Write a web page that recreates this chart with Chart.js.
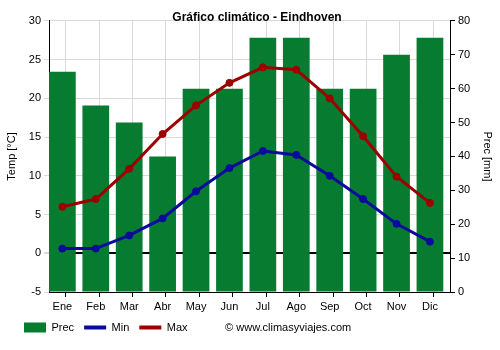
<!DOCTYPE html>
<html lang="es">
<head>
  <meta charset="UTF-8" />
  <title>Gráfico climático - Eindhoven</title>
  <script src="https://cdn.jsdelivr.net/npm/chart.js"></script>
  <style>
    body {
      margin: 0;
      padding: 0;
      background: #fff;
    }

    .chart-container {
      width: 500px;
      height: 350px;
    }
  </style>
</head>
<body>

  <div class="chart-container"><canvas id="climaChart"></canvas></div>

  <script>
    const months = ['Ene', 'Feb', 'Mar', 'Abr', 'May', 'Jun', 'Jul', 'Ago', 'Sep', 'Oct', 'Nov', 'Dic'];
    const prec = [65, 55, 50, 40, 60, 60, 75, 75, 60, 60, 70, 75];
    const tempMin = [0.6, 0.6, 2.3, 4.5, 8.0, 11.0, 13.2, 12.7, 10.0, 7.0, 3.8, 1.5];
    const tempMax = [6.0, 7.0, 10.9, 15.4, 19.1, 22.0, 24.0, 23.7, 20.0, 15.1, 9.9, 6.5];

    const green = '#077b30';
    const blue = '#0a0a9c';
    const red = '#9c0000';
    const fontFamily = '"Liberation Sans", Arial, sans-serif';

    // bars start on the grid line and fill 80% of each month slot
    const barPart = 0.8;
    const xMin = -barPart / 2;
    const xMax = months.length - barPart / 2;

    Chart.defaults.font.family = fontFamily;
    Chart.defaults.font.size = 11;
    Chart.defaults.color = '#000';

    const toPoints = values => values.map((v, i) => ({ x: i, y: v }));

    const ctx = document.getElementById('climaChart').getContext('2d');

    new Chart(ctx, {
      type: 'bar',
      data: {
        datasets: [
          {
            type: 'line',
            label: 'Max',
            data: toPoints(tempMax),
            yAxisID: 'y',
            borderColor: red,
            backgroundColor: red,
            borderWidth: 3,
            pointRadius: 3.5,
            pointBorderWidth: 1,
            pointHoverRadius: 3.5,
            tension: 0,
            order: 0
          },
          {
            type: 'line',
            label: 'Min',
            data: toPoints(tempMin),
            yAxisID: 'y',
            borderColor: blue,
            backgroundColor: blue,
            borderWidth: 3,
            pointRadius: 3.5,
            pointBorderWidth: 1,
            pointHoverRadius: 3.5,
            tension: 0,
            order: 1
          },
          {
            type: 'bar',
            label: 'Prec',
            data: toPoints(prec),
            yAxisID: 'y1',
            backgroundColor: green,
            barPercentage: barPart,
            categoryPercentage: 1,
            order: 2
          }
        ]
      },
      options: {
        responsive: true,
        maintainAspectRatio: false,
        animation: false,
        layout: {
          padding: { left: 14, right: 0, top: 0, bottom: 7 }
        },
        scales: {
          // month labels under the bar centres
          x: {
            type: 'linear',
            position: 'bottom',
            weight: 1,
            offset: false,
            min: xMin,
            max: xMax,
            grid: { display: false, offset: false, drawTicks: true, tickLength: 5 },
            border: { display: false },
            ticks: {
              padding: 3,
              autoSkip: false,
              maxRotation: 0,
              callback: v => months[v]
            },
            afterBuildTicks: scale => {
              scale.ticks = months.map((m, i) => ({ value: i }));
            },
            afterFit: scale => { scale.height = 20; }
          },
          // grid lines and tick marks between the months
          xGrid: {
            type: 'linear',
            position: 'bottom',
            weight: 0,
            offset: false,
            min: xMin,
            max: xMax,
            grid: {
              color: '#d9d9d9',
              tickColor: '#000',
              tickLength: 5
            },
            border: { color: '#000', width: 1 },
            ticks: { display: false },
            afterBuildTicks: scale => {
              scale.ticks = months.concat(['']).map((m, i) => ({ value: i + xMin }));
            },
            afterFit: scale => { scale.height = 0; }
          },
          y: {
            position: 'left',
            min: -5,
            max: 30,
            ticks: { stepSize: 5, padding: 3 },
            grid: {
              color: c => c.tick && c.tick.value === 0 ? '#000' : '#d9d9d9',
              lineWidth: c => c.tick && c.tick.value === 0 ? 2 : 1,
              tickColor: '#d9d9d9',
              tickLength: 5
            },
            border: { color: '#000', width: 1 },
            title: {
              display: true,
              text: 'Temp [°C]',
              font: { size: 11 },
              padding: { top: -9, bottom: 0 }
            },
            afterFit: scale => { scale.width = 35; }
          },
          y1: {
            position: 'right',
            min: 0,
            max: 80,
            ticks: { stepSize: 10, padding: 3 },
            grid: {
              drawOnChartArea: false,
              tickColor: '#000',
              tickLength: 5
            },
            border: { color: '#000', width: 1 },
            title: {
              display: true,
              text: 'Prec [mm]',
              font: { size: 11 },
              padding: { top: 6, bottom: 0 }
            },
            afterFit: scale => { scale.width = 50; }
          }
        },
        plugins: {
          title: {
            display: true,
            text: 'Gráfico climático - Eindhoven',
            font: { size: 12, weight: 'bold' },
            color: '#000',
            padding: { top: 10, bottom: -3.5 }
          },
          legend: {
            position: 'bottom',
            align: 'start',
            labels: {
              usePointStyle: true,
              pointStyleWidth: 22,
              boxHeight: 10,
              padding: 10,
              font: { size: 11 },
              generateLabels: () => [
                { text: 'Prec', fillStyle: green, strokeStyle: green, lineWidth: 0, pointStyle: 'rect', fontColor: '#000' },
                { text: 'Min', fillStyle: blue, strokeStyle: blue, lineWidth: 4, pointStyle: 'line', fontColor: '#000' },
                { text: 'Max', fillStyle: red, strokeStyle: red, lineWidth: 4, pointStyle: 'line', fontColor: '#000' },
                { text: '© www.climasyviajes.com', fillStyle: 'rgba(0,0,0,0)', strokeStyle: 'rgba(0,0,0,0)', lineWidth: 0, pointStyle: 'circle', fontColor: '#000' }
              ]
            },
            onClick: () => {}
          },
          tooltip: { enabled: false }
        }
      }
    });
  </script>

</body>
</html>
